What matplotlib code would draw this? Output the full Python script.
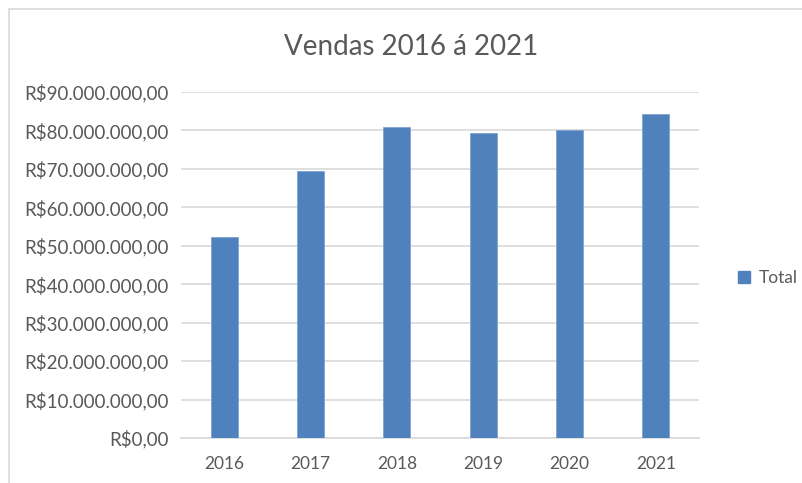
import matplotlib
matplotlib.use('Agg')
import matplotlib.pyplot as plt
import matplotlib.patches as mpatches
from matplotlib.ticker import FuncFormatter, MultipleLocator

# Data
anos = ['2016', '2017', '2018', '2019', '2020', '2021']
vendas = [52.2e6, 69.5e6, 80.8e6, 79.2e6, 80.05e6, 84.2e6]

plt.rcParams['font.family'] = ['Lato', 'DejaVu Sans']

fig = plt.figure(figsize=(8.03, 4.83), dpi=100, facecolor='white')
ax = fig.add_axes([0.2254, 0.0932, 0.645, 0.717])

# Outer chart frame (cropped screenshot look)
frame = mpatches.Rectangle((9 / 803, -0.2), 1.2, 1.2 - 9 / 483,
                           transform=fig.transFigure, fill=False,
                           edgecolor='#d9d9d9', linewidth=1.2, zorder=0)
fig.patches.append(frame)

ax.bar(anos, vendas, width=0.315, color='#4f81bd',
       edgecolor='#7fa3d1', linewidth=0.6, zorder=3, label='Total')

ax.set_ylim(0, 90e6)
ax.set_xlim(-0.5, len(anos) - 0.5)
ax.yaxis.set_major_locator(MultipleLocator(10e6))


def real(v, pos):
    s = f"{v:,.2f}".replace(',', 'X').replace('.', ',').replace('X', '.')
    return 'R$' + s


ax.yaxis.set_major_formatter(FuncFormatter(real))
ax.grid(axis='y', color='#d9d9d9', linewidth=1.2, zorder=0)
ax.set_axisbelow(True)
for side in ['top', 'right', 'left']:
    ax.spines[side].set_visible(False)
ax.spines['bottom'].set_color('#d9d9d9')
ax.spines['bottom'].set_linewidth(1.2)
ax.tick_params(axis='both', length=0, labelcolor='#595959')
ax.tick_params(axis='y', pad=9, labelsize=13.5)
ax.tick_params(axis='x', pad=13, labelsize=12.5)

fig.text(0.512, 0.903, 'Vendas 2016 á 2021', ha='center', va='center',
         fontsize=20, color='#595959')

fig.legend(handles=[mpatches.Patch(color='#4f81bd', label='Total')],
           loc='center left', bbox_to_anchor=(0.9, 0.424), frameon=False,
           fontsize=12.5, labelcolor='#595959', handlelength=0.65,
           handleheight=0.65, handletextpad=0.5)

fig.savefig('out.png', dpi=100, facecolor='white')
